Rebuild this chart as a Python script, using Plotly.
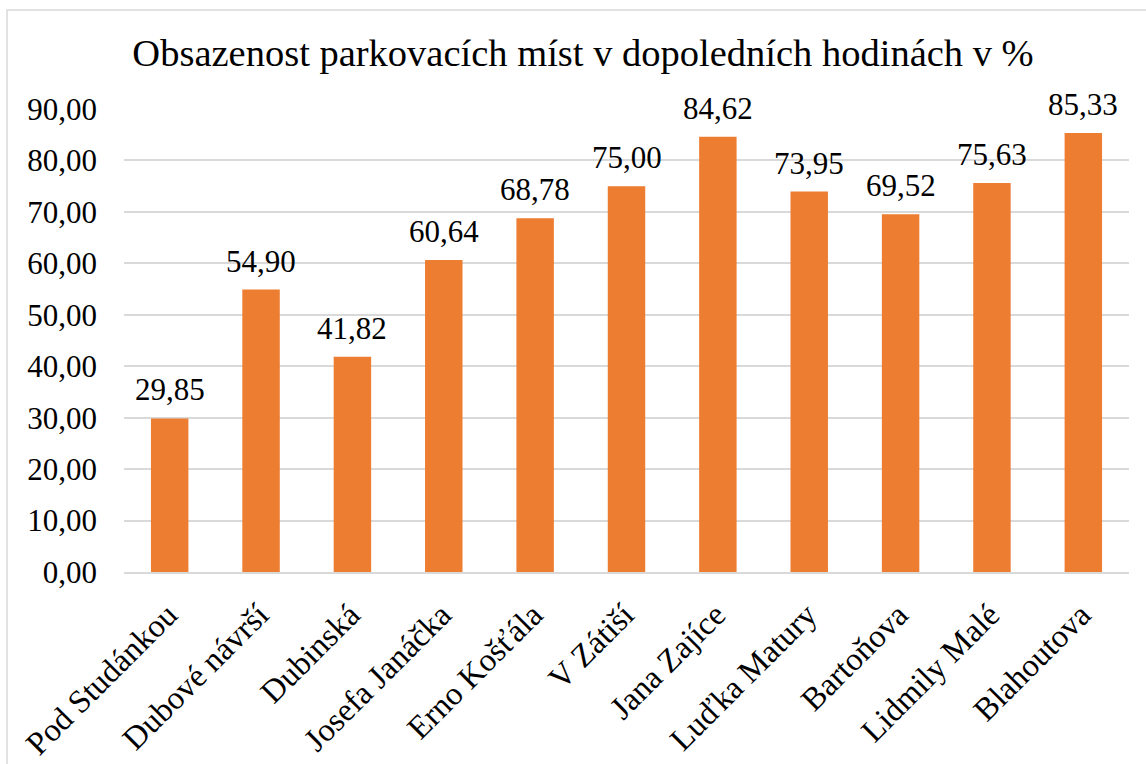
import plotly.graph_objects as go

categories = ["Pod Studánkou", "Dubové návrší", "Dubinská", "Josefa Janáčka", "Erno Košťála",
              "V Zátiší", "Jana Zajíce", "Luďka Matury", "Bartoňova", "Lidmily Malé", "Blahoutova"]
values = [29.85, 54.90, 41.82, 60.64, 68.78, 75.00, 84.62, 73.95, 69.52, 75.63, 85.33]
y_ticks = [0, 10, 20, 30, 40, 50, 60, 70, 80, 90]

W, H = 1146, 764
L, R, T, B = 124, 17, 109, 192
pw, ph = W - L - R, H - T - B

FONT = "Liberation Serif, Times New Roman, serif"

fig = go.Figure(go.Bar(
    x=categories, y=values,
    marker=dict(color="#ED7D31", line=dict(width=0)),
    cliponaxis=False,
))

annotations = [
    dict(x=c, y=v, xref="x", yref="y", text=f"{v:.2f}".replace(".", ","),
         showarrow=False, yanchor="bottom", xanchor="center", yshift=9,
         font=dict(family=FONT, size=31, color="#000000"))
    for c, v in zip(categories, values)
]

fig.update_layout(
    width=W, height=H,
    margin=dict(l=L, r=R, t=T, b=B, autoexpand=False),
    paper_bgcolor="white", plot_bgcolor="white",
    separators=", ",
    font=dict(family=FONT, color="#000000"),
    bargap=0.59,
    showlegend=False,
    annotations=annotations,
    title=dict(text="Obsazenost parkovacích míst v dopoledních hodinách v %",
               x=583 / W, xanchor="center", xref="container",
               y=1 - 53 / H, yref="container", yanchor="middle",
               font=dict(family=FONT, size=38.5, color="#000000")),
    xaxis=dict(tickangle=-45, tickfont=dict(family=FONT, size=32.5, color="#000000"),
               showline=True, linecolor="#d9d9d9", linewidth=1.5, ticks="",
               showgrid=False, ticklabelshift=-2, ticklabelstandoff=9),
    yaxis=dict(range=[0, 90], tickvals=y_ticks, tickformat=".2f",
               tickfont=dict(family=FONT, size=31, color="#000000"),
               showgrid=True, gridcolor="#d9d9d9", gridwidth=1.5,
               zeroline=False, showline=False, ticks="", ticklabelstandoff=26),
    shapes=[dict(type="rect", xref="paper", yref="paper",
                 x0=(7 - L) / pw, x1=(1160 - L) / pw,
                 y0=(H - B - 790) / ph, y1=(H - B - 10) / ph,
                 line=dict(color="#d9d9d9", width=1.5), fillcolor="rgba(0,0,0,0)", layer="below")],
)

fig.write_html("out.html", config={"displayModeBar": False},
               post_script="document.body.style.margin='0';")
